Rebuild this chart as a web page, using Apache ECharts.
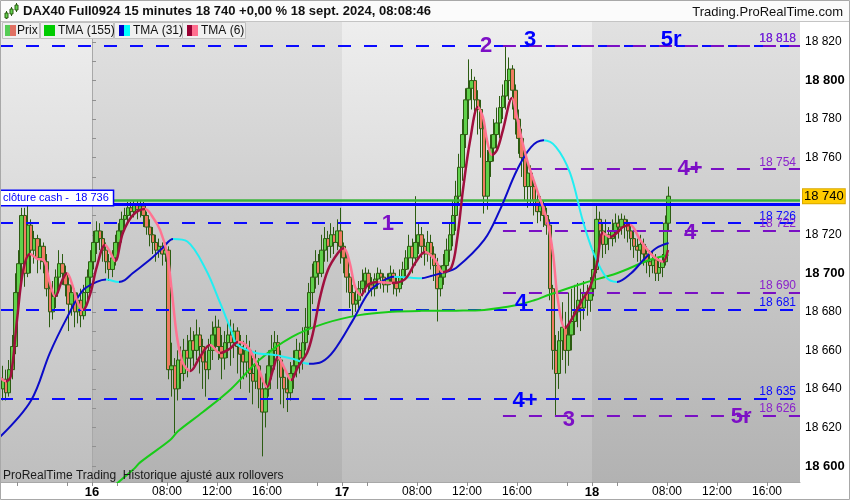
<!DOCTYPE html>
<html><head><meta charset="utf-8">
<script src="https://cdn.jsdelivr.net/npm/echarts@6/dist/echarts.min.js"></script>
<style>html,body{margin:0;padding:0;background:#fff}#c{width:850px;height:500px}</style>
</head><body><div id="c"></div>
<script>
// ---------- DATA ----------
const firstBar = -29; // bar index of first candle (16 Sept 02:00 = bar 0, 15-min bars, 80 bars/day)
const opens = [
 18640,18645,18638,18650,18662,18690,18705,18730,18700,18725,18712,18718,18708,18714,18706,18692,18680,18688,18698,18705,18700,18694,18684,18690,18680,18686,18678,18690,18698,
 18706,18716,18722,18718,18712,18706,18702,18708,18716,18722,18728,18730,18734,18732,18736,18733,18735,18730,18724,18720,
 18716,18712,18714,18710,18712,18650,18652,18640,18655,18648,18660,18656,18665,18660,18668,18662,18654,18650,18660,18668,
 18672,18662,18656,18664,18668,18664,18670,18662,18658,18654,18660,18648,18644,18652,18640,18628,18640,18652,18660,18664,
 18655,18646,18640,18638,18648,18652,18660,18656,18664,18672,18690,18698,18706,18700,18712,18718,18714,18720,18716,18722,
 18714,18708,18698,18690,18684,18686,18692,18696,18700,18694,18692,18697,18700,18698,18694,18697,18700,18695,18692,18698,
 18702,18708,18714,18708,18716,18720,18714,18710,18716,18710,18704,18692,18698,18704,18712,18720,18730,18740,18755,18772,
 18790,18796,18800,18790,18785,18775,18740,18758,18765,18772,18778,18786,18792,18800,18806,18795,18780,18770,18760,18745,
 18752,18745,18738,18732,18735,18730,18725,18692,18660,18648,18665,18672,18660,18668,18675,18680,18686,18682,18690,18686,
 18692,18702,18728,18722,18715,18720,18718,18722,18726,18724,18728,18726,18722,18718,18714,18712,18715,18710,18706,18704,18707,18700,18703,18706,18726
];
const closes = [
 18645,18638,18650,18662,18690,18705,18730,18700,18725,18712,18718,18708,18714,18706,18692,18680,18688,18698,18705,18700,18694,18684,18690,18680,18686,18678,18690,18698,18706,
 18716,18722,18718,18712,18706,18702,18708,18716,18722,18728,18730,18734,18732,18736,18733,18735,18730,18724,18720,18716,
 18712,18714,18710,18712,18650,18652,18640,18655,18648,18660,18656,18665,18660,18668,18662,18654,18650,18660,18668,18672,
 18662,18656,18664,18668,18664,18670,18662,18658,18654,18660,18648,18644,18652,18640,18628,18640,18652,18660,18664,18655,
 18646,18640,18638,18648,18652,18660,18656,18664,18672,18690,18698,18706,18700,18712,18718,18714,18720,18716,18722,18714,
 18708,18698,18690,18684,18686,18692,18696,18700,18694,18692,18697,18700,18698,18694,18697,18700,18695,18692,18698,18702,
 18708,18714,18708,18716,18720,18714,18710,18716,18710,18704,18692,18698,18704,18712,18720,18730,18740,18755,18772,18790,
 18796,18800,18790,18785,18775,18740,18758,18765,18772,18778,18786,18792,18800,18806,18795,18780,18770,18760,18745,18752,
 18745,18738,18732,18735,18730,18725,18692,18660,18648,18665,18672,18660,18668,18675,18680,18686,18682,18690,18686,18692,
 18702,18728,18722,18715,18720,18718,18722,18726,18724,18728,18726,18722,18718,18714,18712,18715,18710,18706,18704,18707,18700,18703,18706,18726,18740
];
const lows = [
 18634,18634,18636,18645,18658,18680,18695,18693,18698,18700,18705,18700,18702,18700,18688,18672,18676,18682,18690,18694,18688,18670,18678,18672,18674,18672,18676,18684,18692,
 18702,18710,18712,18706,18700,18696,18698,18704,18712,18716,18722,18726,18728,18729,18728,18729,18724,18720,18714,18710,
 18706,18708,18704,18706,18645,18636,18617,18634,18640,18644,18646,18650,18652,18655,18648,18640,18636,18645,18655,18660,
 18655,18645,18650,18656,18652,18656,18648,18640,18645,18646,18638,18632,18640,18630,18605,18620,18636,18645,18650,18640,
 18632,18630,18628,18634,18640,18646,18648,18650,18660,18668,18684,18692,18694,18698,18706,18706,18708,18710,18712,18705,
 18700,18690,18682,18678,18680,18682,18688,18690,18690,18688,18688,18692,18692,18690,18690,18694,18689,18688,18690,18694,
 18698,18702,18700,18704,18710,18708,18704,18706,18702,18696,18675,18688,18694,18700,18706,18714,18722,18735,18748,18765,
 18780,18785,18780,18772,18760,18731,18733,18750,18758,18764,18770,18780,18785,18790,18785,18772,18762,18750,18738,18734,
 18736,18730,18726,18727,18724,18720,18686,18650,18626,18640,18655,18648,18652,18660,18668,18672,18670,18676,18678,18680,
 18688,18700,18712,18708,18710,18712,18714,18716,18718,18720,18718,18716,18712,18708,18706,18706,18704,18700,18698,18700,18696,18696,18698,18704,18722
];
const highs = [
 18652,18650,18655,18668,18700,18712,18734,18734,18735,18728,18722,18720,18718,18716,18710,18694,18696,18702,18712,18710,18704,18698,18694,18692,18690,18692,18694,18702,18712,
 18722,18727,18726,18722,18716,18710,18712,18720,18726,18732,18734,18737,18737,18738,18738,18738,18737,18732,18728,18724,
 18720,18718,18716,18716,18714,18664,18656,18660,18662,18666,18668,18672,18670,18676,18672,18666,18660,18666,18675,18678,
 18676,18668,18670,18675,18676,18674,18672,18668,18665,18668,18665,18656,18660,18656,18644,18648,18660,18668,18670,18668,
 18660,18652,18648,18654,18660,18666,18664,18672,18682,18695,18705,18712,18710,18720,18724,18722,18726,18724,18728,18734,
 18716,18710,18700,18694,18692,18696,18702,18703,18702,18698,18700,18703,18702,18700,18700,18704,18702,18698,18702,18706,
 18712,18720,18718,18740,18726,18724,18718,18722,18720,18714,18708,18704,18710,18718,18726,18738,18748,18762,18780,18796,
 18811,18806,18802,18795,18790,18778,18764,18772,18780,18786,18792,18798,18818,18812,18808,18798,18785,18775,18765,18758,
 18756,18750,18742,18740,18738,18734,18728,18694,18668,18670,18685,18680,18690,18692,18694,18695,18692,18696,18694,18698,
 18712,18735,18732,18726,18728,18724,18728,18731,18730,18731,18730,18728,18726,18722,18718,18720,18718,18714,18712,18712,18710,18708,18710,18730,18745
];
// indicator lines: [bar index, value]
const tma155 = [[6,18589],[12.6,18598],[15,18602],[24.5,18613.5],[27,18618],[35,18628],[44,18640],[53,18655],[63.5,18667],[74,18674],[85,18678.3],[95.5,18680],[105,18680.5],[116,18680.6],[125,18681],[135.5,18683.5],[141,18686],[146,18689],[157,18695],[167.5,18700],[178,18707],[184,18709.5]];
const tma31 = [[-30,18615],[-20,18634],[-14,18658.6],[-8.5,18677],[-3.5,18691],[1,18695.5],[4,18696.8],[8,18695.5],[10,18696.5],[12.5,18700],[18,18707],[22,18713],[25.5,18717.8],[30,18716.5],[36,18701.7],[40.5,18684.6],[44,18670.5],[46,18663],[52,18658.6],[58,18657.6],[64,18655.5],[69,18653],[73,18654],[77,18660],[83,18675.7],[88,18690],[92,18695.5],[96,18698.2],[101,18697.8],[105,18697.4],[108,18698.6],[112.5,18700.6],[116,18702.7],[125,18717.3],[130,18732.8],[135.5,18753.6],[140,18765.5],[144,18769],[148,18765.5],[152.5,18752],[156.5,18727.6],[160,18710.5],[164,18698],[167.5,18695.5],[172,18700],[176,18707],[180,18713],[184,18715.7]];
const tma6 = [[-30,18646],[-28,18644],[-26.5,18646.5],[-24.5,18675.7],[-22.5,18701.7],[-20.3,18710],[-18,18707.5],[-16,18707],[-14,18695],[-12.3,18688],[-10,18696.5],[-8.5,18700],[-7,18695],[-5,18684.6],[-3.4,18681],[-1,18689.7],[1,18703.2],[3.7,18714.7],[5.3,18711],[6.9,18706.4],[9.4,18721],[12.6,18730.2],[16.5,18733.3],[19,18729],[21.3,18722.4],[23.5,18710.5],[25,18691.3],[26.7,18667],[28.6,18653.4],[31,18649.3],[34,18656.5],[37.3,18662.8],[40.5,18658.6],[43.7,18661],[46.2,18664.3],[49.4,18661.7],[52.6,18651.3],[55.5,18641],[57.4,18649.8],[59,18656.5],[61.3,18650],[63.2,18644.6],[65.4,18651.3],[68.3,18658.6],[70.2,18669],[72.5,18687.7],[75,18701.7],[78.2,18710.5],[80.1,18713],[82,18705.3],[83.7,18692.9],[85.6,18688.7],[87.8,18694],[91,18695.5],[95.5,18695],[99.7,18697],[102.9,18705.3],[106.1,18711],[109.3,18707],[111.8,18700.6],[114.5,18703],[116.3,18717.3],[118.2,18743.2],[120.5,18769],[123,18786.3],[124.6,18781],[125.9,18769],[127.5,18761.4],[129.1,18764],[131,18774.3],[133.9,18791],[135.5,18781],[137.1,18769],[139,18757.2],[141.9,18743.2],[145.1,18727.6],[147,18710.5],[148.6,18686],[150.9,18671.6],[153.4,18677.3],[156.3,18686],[158.9,18692.9],[161.1,18705.3],[163,18721],[165.3,18718.8],[167.5,18721],[169.4,18724],[171.7,18725],[174.9,18717.3],[178.1,18710.5],[180.6,18707],[182.2,18706],[183.8,18712.1]];
// horizontal levels
const blueLevels = [18818, 18726, 18681, 18635];
const purpleLevels = [18818, 18754, 18722, 18690, 18626];
const purpleFromBar = 131;
const cashClose = 18736;
const greenLevel = 18738;
const lastPrice = 18740;
// wave labels: [text, bar index, price, group]
const waveLabels = [
 ['1', 94.2, 18725.5, 'p'], ['2', 125.6, 18818, 'p'], ['3', 139.7, 18821, 'b'], ['5r', 184.8, 18821, 'b'],
 ['4+', 190.9, 18754, 'p'], ['4', 190.9, 18721, 'p'], ['4', 136.8, 18684.5, 'b'], ['4+', 138.1, 18633.7, 'b'],
 ['3', 152.1, 18624, 'p'], ['5r', 207.2, 18625.4, 'p']
];
// axis ticks / labels
const xTicks = [-24,-8,0,8,24,40,56,72,80,88,104,120,136,152,160,168,184,200,216];
const xLabelText = {0:'16',24:'08:00',40:'12:00',56:'16:00',80:'17',104:'08:00',120:'12:00',136:'16:00',160:'18',184:'08:00',200:'12:00',216:'16:00'};
const dayStarts = [0, 80, 160];
const yTicks = [18600,18610,18620,18630,18640,18650,18660,18670,18680,18690,18700,18710,18720,18730,18740,18750,18760,18770,18780,18790,18800,18810,18820,18830];
const yLabels = [18600,18620,18640,18660,18680,18700,18720,18760,18780,18800,18820];
const dayBands = [[-40,0,'light'],[0,80,'dark'],[80,160,'light'],[160,240,'dark']];

// ---------- BUILD ----------
const FONT = '"Liberation Sans", Arial, sans-serif';
const PURPLE = '#7d0fc6', BLUE = '#0a0aff';
const fmt = v => { const s = String(Math.round(v)); return s.slice(0, s.length - 3) + ' ' + s.slice(-3); };
const ctr = i => i + 0.5; // bar index -> axis position of the bar centre
const xMin = -29.44, xMax = 226.56;

const candleData = opens.map((o, k) => [ctr(firstBar + k), o, closes[k], lows[k], highs[k]]);
const toLine = arr => arr.map(p => [ctr(p[0]), p[1]]);

function slopePieces(arr, up, down) {
  const pcs = [];
  for (let k = 0; k < arr.length - 1; k++) {
    const rising = arr[k + 1][1] >= arr[k][1];
    pcs.push({ gte: k === 0 ? -1000 : ctr(arr[k][0]), lt: k === arr.length - 2 ? 1000 : ctr(arr[k + 1][0]), color: rising ? up : down });
  }
  return pcs;
}

const grad = (top, bottom) => ({ type: 'linear', x: 0, y: 0, x2: 0, y2: 1, colorStops: [{ offset: 0, color: top }, { offset: 1, color: bottom }] });
const bandAreas = dayBands.map(b => [
  { xAxis: b[0], itemStyle: { color: b[2] === 'light' ? grad('#eeeeee', '#bebebe') : grad('#e1e1e1', '#b2b2b2') } },
  { xAxis: b[1] }
]);

const levelLines = [];
blueLevels.forEach(v => levelLines.push({
  yAxis: v, lineStyle: { color: BLUE, type: [13, 13], width: 2 },
  label: { show: true, position: 'insideEndTop', formatter: fmt(v), color: BLUE, fontSize: 12, distance: [4, 1] }
}));
purpleLevels.forEach(v => levelLines.push([
  { coord: [ctr(purpleFromBar), v], lineStyle: { color: '#7a0fc4', type: [13, 13], width: 2 },
    label: { show: true, position: 'insideEndTop', formatter: fmt(v), color: '#8a22cc', fontSize: 12, distance: [4, 1] } },
  { coord: [xMax, v] }
]));
levelLines.push({ yAxis: greenLevel, lineStyle: { color: '#3cb43c', type: 'solid', width: 2.5 }, label: { show: false } });
levelLines.push({
  yAxis: cashClose, lineStyle: { color: '#0000ff', type: 'solid', width: 3 },
  label: { show: true, position: 'insideStartTop', formatter: 'clôture cash -  ' + fmt(cashClose), color: '#0000ff', fontSize: 11,
    backgroundColor: '#ffffff', borderColor: '#0000ff', borderWidth: 1.5, padding: [2, 4, 1, 3], distance: [0, -1] }
});
levelLines.push({
  yAxis: lastPrice, lineStyle: { color: 'rgba(0,0,0,0)', width: 1 },
  label: { show: true, position: 'end', formatter: fmt(lastPrice), color: '#000', fontSize: 13, backgroundColor: '#ffcc00',
    borderColor: '#d9a800', borderWidth: 1, padding: [1, 1, 0, 1], distance: 3 }
});

const waveData = waveLabels.map(w => ({
  value: [ctr(w[1]), w[2]], name: w[0],
  label: { color: w[3] === 'p' ? PURPLE : '#0000ff' }
}));

const chart = echarts.init(document.getElementById('c'), null, { renderer: 'canvas', width: 850, height: 500 });
chart.setOption({
  animation: false,
  backgroundColor: '#ffffff',
  textStyle: { fontFamily: FONT },
  grid: { left: 0, right: 50, top: 22, bottom: 18 },
  xAxis: {
    type: 'value', min: xMin, max: xMax, splitLine: { show: false },
    axisLine: { show: true, lineStyle: { color: '#a8a8a8' } },
    axisTick: { show: true, customValues: xTicks, length: 4, lineStyle: { color: '#909090' } },
    axisLabel: {
      customValues: Object.keys(xLabelText).map(Number), margin: 4, color: '#000', fontSize: 12,
      formatter: v => dayStarts.includes(v) ? '{d|' + xLabelText[v] + '}' : (xLabelText[v] || ''),
      rich: { d: { fontWeight: 'bold', fontSize: 13, color: '#000' } }
    }
  },
  yAxis: {
    type: 'value', position: 'right', min: 18591.7, max: 18830.4, scale: true, splitLine: { show: false },
    axisLine: { show: true, lineStyle: { color: '#a8a8a8' } },
    axisTick: { show: true, customValues: yTicks, length: 4, lineStyle: { color: '#909090' } },
    axisLabel: {
      customValues: yLabels, margin: 5, color: '#000', fontSize: 12,
      formatter: v => v % 100 === 0 ? '{b|' + fmt(v) + '}' : fmt(v),
      rich: { b: { fontWeight: 'bold', fontSize: 13, color: '#000' } }
    }
  },
  visualMap: [
    { type: 'piecewise', show: false, seriesIndex: 4, dimension: 0, pieces: slopePieces(tma31, '#0b0bc8', '#22eef2') },
    { type: 'piecewise', show: false, seriesIndex: 5, dimension: 0, pieces: slopePieces(tma6, '#a0103e', '#ff7391') }
  ],
  series: [
    { type: 'line', z: 0, data: [[-1000, 18700]], showSymbol: false, silent: true,
      markArea: { silent: true, z: 0, data: bandAreas } },
    { type: 'line', z: 1, data: [[-1000, 18700]], showSymbol: false, silent: true,
      markLine: { silent: true, symbol: ['none', 'none'], z: 3, data: levelLines } },
    { type: 'candlestick', z: 2, data: candleData, encode: { x: 0, y: [1, 2, 3, 4] }, barWidth: 4,
      itemStyle: { color: '#5fd14a', color0: '#ef7b62', borderColor: '#2c5c12', borderColor0: '#2c5c12', borderWidth: 1 } },
    { type: 'line', z: 4, data: toLine(tma155), showSymbol: false, smooth: 0.35, lineStyle: { color: '#18cc18', width: 2 } },
    { type: 'line', z: 4, data: toLine(tma31), showSymbol: false, smooth: 0.35, lineStyle: { width: 2 } },
    { type: 'line', z: 5, data: toLine(tma6), showSymbol: false, smooth: 0.35, lineStyle: { width: 2.5 } },
    { type: 'scatter', z: 8, data: waveData, symbolSize: 1, itemStyle: { color: 'rgba(0,0,0,0)' }, silent: true,
      label: { show: true, position: 'inside', formatter: p => p.name, fontSize: 22, fontWeight: 'bold', fontFamily: FONT,
        textBorderWidth: 0, opacity: 1 } }
  ],
  graphic: [
    { type: 'rect', z: 100, silent: true, shape: { x: 0, y: 0, width: 850, height: 21 }, style: { fill: '#fbfbfb' } },
    { type: 'line', z: 100, silent: true, shape: { x1: 0, y1: 21.5, x2: 850, y2: 21.5 }, style: { stroke: '#c4c4c4', lineWidth: 1 } },
    // header icon
    { type: 'line', z: 101, shape: { x1: 6.5, y1: 11, x2: 6.5, y2: 19 }, style: { stroke: '#2c5c12' } },
    { type: 'rect', z: 102, shape: { x: 5, y: 13, width: 3, height: 5 }, style: { fill: '#63d34f', stroke: '#2c5c12', lineWidth: 1 } },
    { type: 'line', z: 101, shape: { x1: 11.5, y1: 7, x2: 11.5, y2: 16 }, style: { stroke: '#2c5c12' } },
    { type: 'rect', z: 102, shape: { x: 10, y: 9, width: 3, height: 5 }, style: { fill: '#63d34f', stroke: '#2c5c12', lineWidth: 1 } },
    { type: 'line', z: 101, shape: { x1: 16.5, y1: 3, x2: 16.5, y2: 12 }, style: { stroke: '#2c5c12' } },
    { type: 'rect', z: 102, shape: { x: 15, y: 5, width: 3, height: 5 }, style: { fill: '#63d34f', stroke: '#2c5c12', lineWidth: 1 } },
    { type: 'text', z: 101, style: { x: 23, y: 11.5, text: 'DAX40 Full0924 15 minutes 18 740 +0,00 % 18 sept. 2024, 08:08:46', font: 'bold 13px ' + FONT, fill: '#111', textVerticalAlign: 'middle' } },
    { type: 'text', z: 101, style: { x: 843, y: 12, text: 'Trading.ProRealTime.com', font: '13px ' + FONT, fill: '#111', textAlign: 'right', textVerticalAlign: 'middle' } },
    // legend row
    { type: 'rect', z: 100, shape: { x: 2.5, y: 22.5, width: 37, height: 16 }, style: { fill: '#f0f0f0', stroke: '#c0c0c0' } },
    { type: 'rect', z: 100, shape: { x: 40.5, y: 22.5, width: 73, height: 16 }, style: { fill: '#f0f0f0', stroke: '#c0c0c0' } },
    { type: 'rect', z: 100, shape: { x: 114.5, y: 22.5, width: 68, height: 16 }, style: { fill: '#f0f0f0', stroke: '#c0c0c0' } },
    { type: 'rect', z: 100, shape: { x: 182.5, y: 22.5, width: 63, height: 16 }, style: { fill: '#f0f0f0', stroke: '#c0c0c0' } },
    { type: 'rect', z: 101, shape: { x: 5, y: 25, width: 5, height: 11 }, style: { fill: '#55cc55' } },
    { type: 'rect', z: 101, shape: { x: 10, y: 25, width: 6, height: 11 }, style: { fill: '#e07062' } },
    { type: 'rect', z: 101, shape: { x: 44, y: 25, width: 11, height: 11 }, style: { fill: '#00cc00' } },
    { type: 'rect', z: 101, shape: { x: 119, y: 25, width: 5, height: 11 }, style: { fill: '#0000cc' } },
    { type: 'rect', z: 101, shape: { x: 124, y: 25, width: 6, height: 11 }, style: { fill: '#00ffff' } },
    { type: 'rect', z: 101, shape: { x: 187, y: 25, width: 5, height: 11 }, style: { fill: '#990033' } },
    { type: 'rect', z: 101, shape: { x: 192, y: 25, width: 6, height: 11 }, style: { fill: '#ff6f8f' } },
    { type: 'text', z: 101, style: { x: 17, y: 31, text: 'Prix', font: '12px ' + FONT, fill: '#111', textVerticalAlign: 'middle' } },
    { type: 'text', z: 101, style: { x: 58, y: 31, text: 'TMA (155)', font: '12px ' + FONT, fill: '#111', textVerticalAlign: 'middle' } },
    { type: 'text', z: 101, style: { x: 133, y: 31, text: 'TMA (31)', font: '12px ' + FONT, fill: '#111', textVerticalAlign: 'middle' } },
    { type: 'text', z: 101, style: { x: 201, y: 31, text: 'TMA (6)', font: '12px ' + FONT, fill: '#111', textVerticalAlign: 'middle' } },
    // footnote
    { type: 'text', z: 101, style: { x: 3, y: 476, text: 'ProRealTime Trading  Historique ajusté aux rollovers', font: '12px ' + FONT, fill: '#1a1a1a', textVerticalAlign: 'middle' } },
    // frame
    { type: 'rect', z: 110, silent: true, shape: { x: 0.5, y: 0.5, width: 849, height: 499 }, style: { fill: 'none', stroke: '#a8a8a8', lineWidth: 1 } }
  ]
});
</script>
</body></html>
